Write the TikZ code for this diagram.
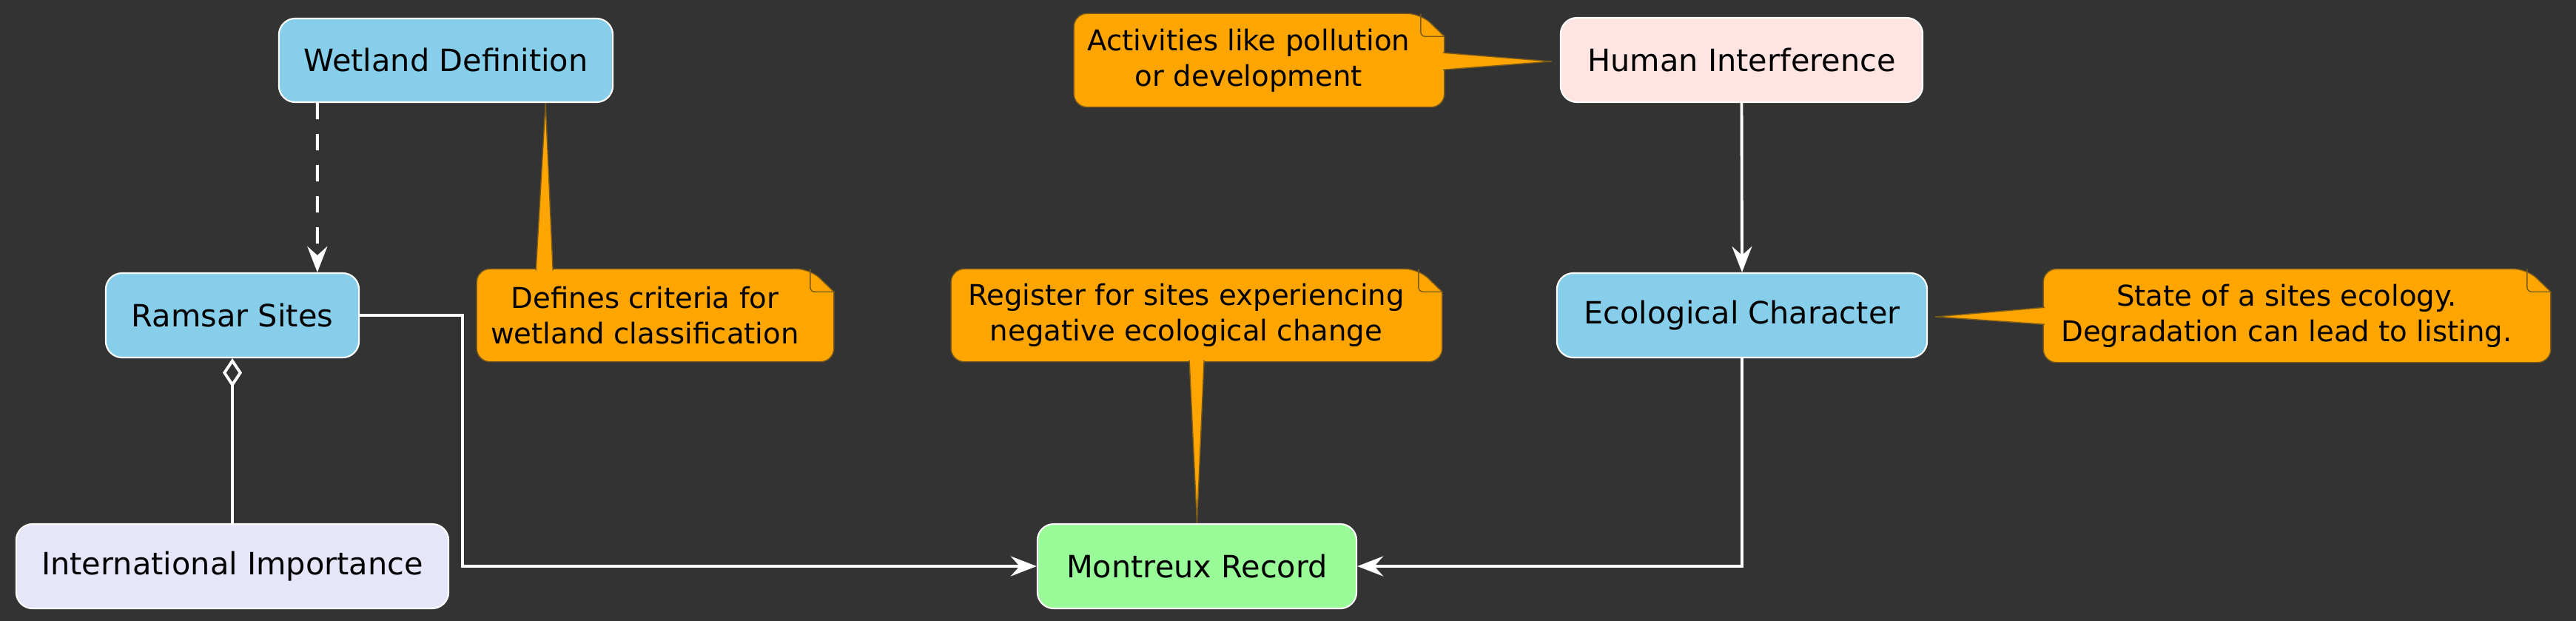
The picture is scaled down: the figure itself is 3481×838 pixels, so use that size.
\documentclass[tikz,border=0pt]{standalone}
\usepackage{fontspec}
\setmainfont{DejaVu Sans}
\usetikzlibrary{arrows.meta,calc}
\definecolor{bgc}{HTML}{333333}
\definecolor{sky}{HTML}{87CEEB}
\definecolor{lav}{HTML}{E6E6FA}
\definecolor{pgreen}{HTML}{98FB98}
\definecolor{mrose}{HTML}{FFE4E1}
\definecolor{notec}{HTML}{FFA500}
\definecolor{noteb}{HTML}{7A5A1A}
\pgfdeclarelayer{back}\pgfdeclarelayer{bg}
\pgfsetlayers{back,bg,main}
\tikzset{
 box/.style={draw=white, line width=0.6pt, rounded corners=0.22cm, inner sep=0pt,
   font=\fontsize{11.8}{14}\selectfont, text=black, minimum height=1.14cm},
 notetext/.style={inner sep=0pt, align=center, font=\fontsize{11}{13.7}\selectfont, text=black},
 edge/.style={white, line width=1.1pt},
 arr/.style={-{Stealth[length=0.35cm,width=0.27cm,inset=0.12cm]}},
}
\newcommand\drawnote[1]{%
\begin{pgfonlayer}{bg}
\filldraw[fill=notec, draw=noteb, line width=0.4pt] (#1.west) [rounded corners=0.18cm] -- (#1.north west) -- ($(#1.north east)+(-4,0)$) [sharp corners] -- ($(#1.north east)+(28,31)$) [rounded corners=0.18cm] -- ($(#1.south east)+(28,0)$) -- (#1.south west) -- cycle;
\draw[noteb, line width=0.4pt] ($(#1.north east)+(-4,0)$) [rounded corners=0.06cm] -- ($(#1.north east)+(-4,31)$) -- ($(#1.north east)+(28,31)$);
\end{pgfonlayer}}
\newcommand\notewedge[3]{%
\begin{pgfonlayer}{bg}
\fill[notec] #1 -- #3 -- #2 -- cycle;
\draw[noteb, line width=0.4pt] #1 -- #3 -- #2;
\end{pgfonlayer}}
\begin{document}
\begin{tikzpicture}[x=0.01cm, y=-0.01cm]
\useasboundingbox (0,0) rectangle (3481,838);
\begin{pgfonlayer}{back}
\fill[bgc] (-10,-10) rectangle (3491,848);
\end{pgfonlayer}

\node[box, fill=sky, minimum width=4.51cm, minimum height=1.13cm] (wd) at (602.5,81.5) {Wetland Definition};
\node[box, fill=sky, minimum width=3.42cm] (rs) at (314,426) {Ramsar Sites};
\node[box, fill=lav, minimum width=5.84cm] (ii) at (314,765) {International Importance};
\node[box, fill=pgreen, minimum width=4.31cm] (mr) at (1617.5,765) {Montreux Record};
\node[box, fill=mrose, minimum width=4.89cm] (hi) at (2353.5,81) {Human Interference};
\node[box, fill=sky, minimum width=5.0cm] (ec) at (2354,426) {Ecological Character};

\node[notetext, minimum width=4.53cm, minimum height=1.24cm] (n1) at (871.5,426) {Defines criteria for\\wetland classification};
\node[notetext, minimum width=4.71cm, minimum height=1.25cm] (n2) at (1687.5,81.5) {Activities like pollution\\or development};
\node[notetext, minimum width=6.34cm, minimum height=1.24cm] (n3) at (1603,426) {Register for sites experiencing\\negative ecological change};
\node[notetext, minimum width=6.56cm, minimum height=1.25cm] (n4) at (3090,426.5) {State of a sites ecology.\\Degradation can lead to listing.};

\drawnote{n1}\drawnote{n2}\drawnote{n3}\drawnote{n4}
\notewedge{($(n1.north west)+(80,2)$)}{($(n1.north west)+(103,2)$)}{($(wd.south east)+(-92,0)$)}
\notewedge{($(n2.north east)+(26,53)$)}{($(n2.north east)+(26,76)$)}{($(hi.west)+(-11,2)$)}
\notewedge{($(n3.south west)+(322,-2)$)}{($(n3.south west)+(342,-2)$)}{(mr.north)}
\notewedge{($(n4.north west)+(2,52)$)}{($(n4.north west)+(2,75)$)}{($(ec.east)+(10,2)$)}

\draw[edge, arr, dash pattern=on 0.22cm off 0.2cm] ($(wd.south west)+(53,0)$) -- ($(rs.north west)+(287,0)$);
\draw[edge, arr] (hi.south) -- (ec.north);
\draw[edge, -{Diamond[open,length=0.39cm,width=0.26cm]}] (ii.north) -- (rs.south);
\draw[edge, arr] (rs.east) -- ++(139,0) |- (mr.west);
\draw[edge, arr] (ec.south) |- (mr.east);
\end{tikzpicture}
\end{document}
